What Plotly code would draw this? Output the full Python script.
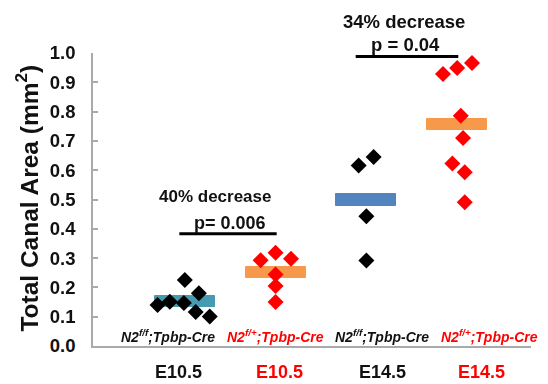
import numpy as np
import plotly.graph_objects as go

# ---- data ----
groups = ["E10.5 N2f/f", "E10.5 N2f/+", "E14.5 N2f/f", "E14.5 N2f/+"]
e10_ff = [0.140, 0.151, 0.225, 0.147, 0.180, 0.116, 0.101]
e10_fp = [0.293, 0.318, 0.298, 0.244, 0.205, 0.150]
e14_ff = [0.616, 0.645, 0.443, 0.292]
e14_fp = [0.928, 0.949, 0.966, 0.786, 0.710, 0.623, 0.593, 0.491]
# horizontal scatter (jitter) of each point, in category units
jit_e10_ff = [-0.30, -0.165, 0.0, -0.01, 0.155, 0.12, 0.275]
jit_e10_fp = [-0.165, 0.0, 0.17, 0.0, 0.0, 0.0]
jit_e14_ff = [-0.085, 0.08, 0.0, 0.0]
jit_e14_fp = [-0.156, 0.0, 0.163, 0.04, 0.065, -0.053, 0.083, 0.083]

genotype_labels = ["N2<sup>f/f</sup>;Tpbp-Cre", "N2<sup>f/+</sup>;Tpbp-Cre",
                   "N2<sup>f/f</sup>;Tpbp-Cre", "N2<sup>f/+</sup>;Tpbp-Cre"]
age_labels = ["E10.5", "E10.5", "E14.5", "E14.5"]
y_ticks = [0.0, 0.1, 0.2, 0.3, 0.4, 0.5, 0.6, 0.7, 0.8, 0.9, 1.0]
comparisons = [("40% decrease", "p= 0.006"), ("34% decrease", "p = 0.04")]

series = [e10_ff, e10_fp, e14_ff, e14_fp]
jitters = [jit_e10_ff, jit_e10_fp, jit_e14_ff, jit_e14_fp]
dot_colors = ["#000000", "#FF0000", "#000000", "#FF0000"]
bar_colors = ["#4098AE", "#F79646", "#4F81BD", "#F79646"]
label_colors = ["#111111", "#FF0000", "#111111", "#FF0000"]

FONT = "Arial, Liberation Sans, sans-serif"

fig = go.Figure()

means = [float(np.mean(s)) for s in series]
bar_h = 0.04
fig.add_trace(go.Bar(
    x=list(range(4)), y=[bar_h] * 4, base=[m - bar_h / 2 for m in means],
    width=0.66, marker=dict(color=bar_colors, line=dict(color=bar_colors, width=1)),
    opacity=0.97, showlegend=False, hoverinfo="skip"))

for i, (vals, jit) in enumerate(zip(series, jitters)):
    fig.add_trace(go.Scatter(
        x=[i + j for j in jit], y=vals, mode="markers", cliponaxis=False,
        marker=dict(symbol="diamond", size=12.3, color=dot_colors[i]),
        showlegend=False, name=groups[i]))

# comparison brackets
fig.add_shape(type="line", x0=-0.06, x1=1.012, y0=0.383, y1=0.383,
              line=dict(color="#000000", width=3))
fig.add_shape(type="line", x0=1.882, x1=3.012, y0=0.988, y1=0.988,
              line=dict(color="#000000", width=3))

def txt(**kw):
    d = dict(showarrow=False, xanchor="center", yanchor="middle")
    d.update(kw)
    return d

ann = []
ann.append(txt(x=0.33, y=0.511, xref="x", yref="paper", text="<b>" + comparisons[0][0] + "</b>",
               font=dict(size=17, color="#111111", family=FONT)))
ann.append(txt(x=0.50, y=0.421, xref="x", yref="paper", text="<b>" + comparisons[0][1] + "</b>",
               font=dict(size=18, color="#111111", family=FONT)))
ann.append(txt(x=2.415, y=1.108, xref="x", yref="paper", text="<b>" + comparisons[1][0] + "</b>",
               font=dict(size=18.5, color="#111111", family=FONT)))
ann.append(txt(x=2.43, y=1.028, xref="x", yref="paper", text="<b>" + comparisons[1][1] + "</b>",
               font=dict(size=18.5, color="#111111", family=FONT)))

geno_x = [0.171, 0.416, 0.660, 0.906]
age_x = [0.196, 0.425, 0.662, 0.886]
for i in range(4):
    ann.append(txt(x=geno_x[i], y=0.034, xref="paper", yref="paper",
                   text="<b><i>" + genotype_labels[i] + "</i></b>",
                   font=dict(size=14, color=label_colors[i], family=FONT)))
    ann.append(txt(x=age_x[i], y=-0.0896, xref="paper", yref="paper",
                   text="<b>" + age_labels[i] + "</b>",
                   font=dict(size=18, color=label_colors[i], family=FONT)))

ann.append(txt(x=(27 - 93) / 438, y=0.503, xref="paper", yref="paper", textangle=-90,
               text="<b>Total Canal Area (mm<sup>2</sup>)</b>",
               font=dict(size=24.5, color="#111111", family=FONT)))

# page body adds an 8px offset; margins compensate so the plot lands where the reference has it
fig.update_layout(
    width=540, height=376,
    margin=dict(l=85, r=17, t=45, b=38, autoexpand=False),
    paper_bgcolor="white", plot_bgcolor="white",
    bargap=0, annotations=ann,
    font=dict(family=FONT, color="#111111"),
)
fig.update_xaxes(range=[-1.011, 3.813], showline=True, linecolor="#AAAAAA", linewidth=1.5,
                 showticklabels=False, ticks="", showgrid=False, zeroline=False,
                 automargin=False)
fig.update_yaxes(range=[0, 1.0], tickvals=y_ticks,
                 ticktext=["<b>%.1f</b>" % v for v in y_ticks],
                 showline=True, linecolor="#AAAAAA", linewidth=1.5,
                 ticks="inside", ticklen=5, tickcolor="#AAAAAA", tickwidth=1.5,
                 ticklabelstandoff=12, automargin=False,
                 tickfont=dict(size=18.5, color="#111111", family=FONT),
                 showgrid=False, zeroline=False)

fig.write_html("out.html")
